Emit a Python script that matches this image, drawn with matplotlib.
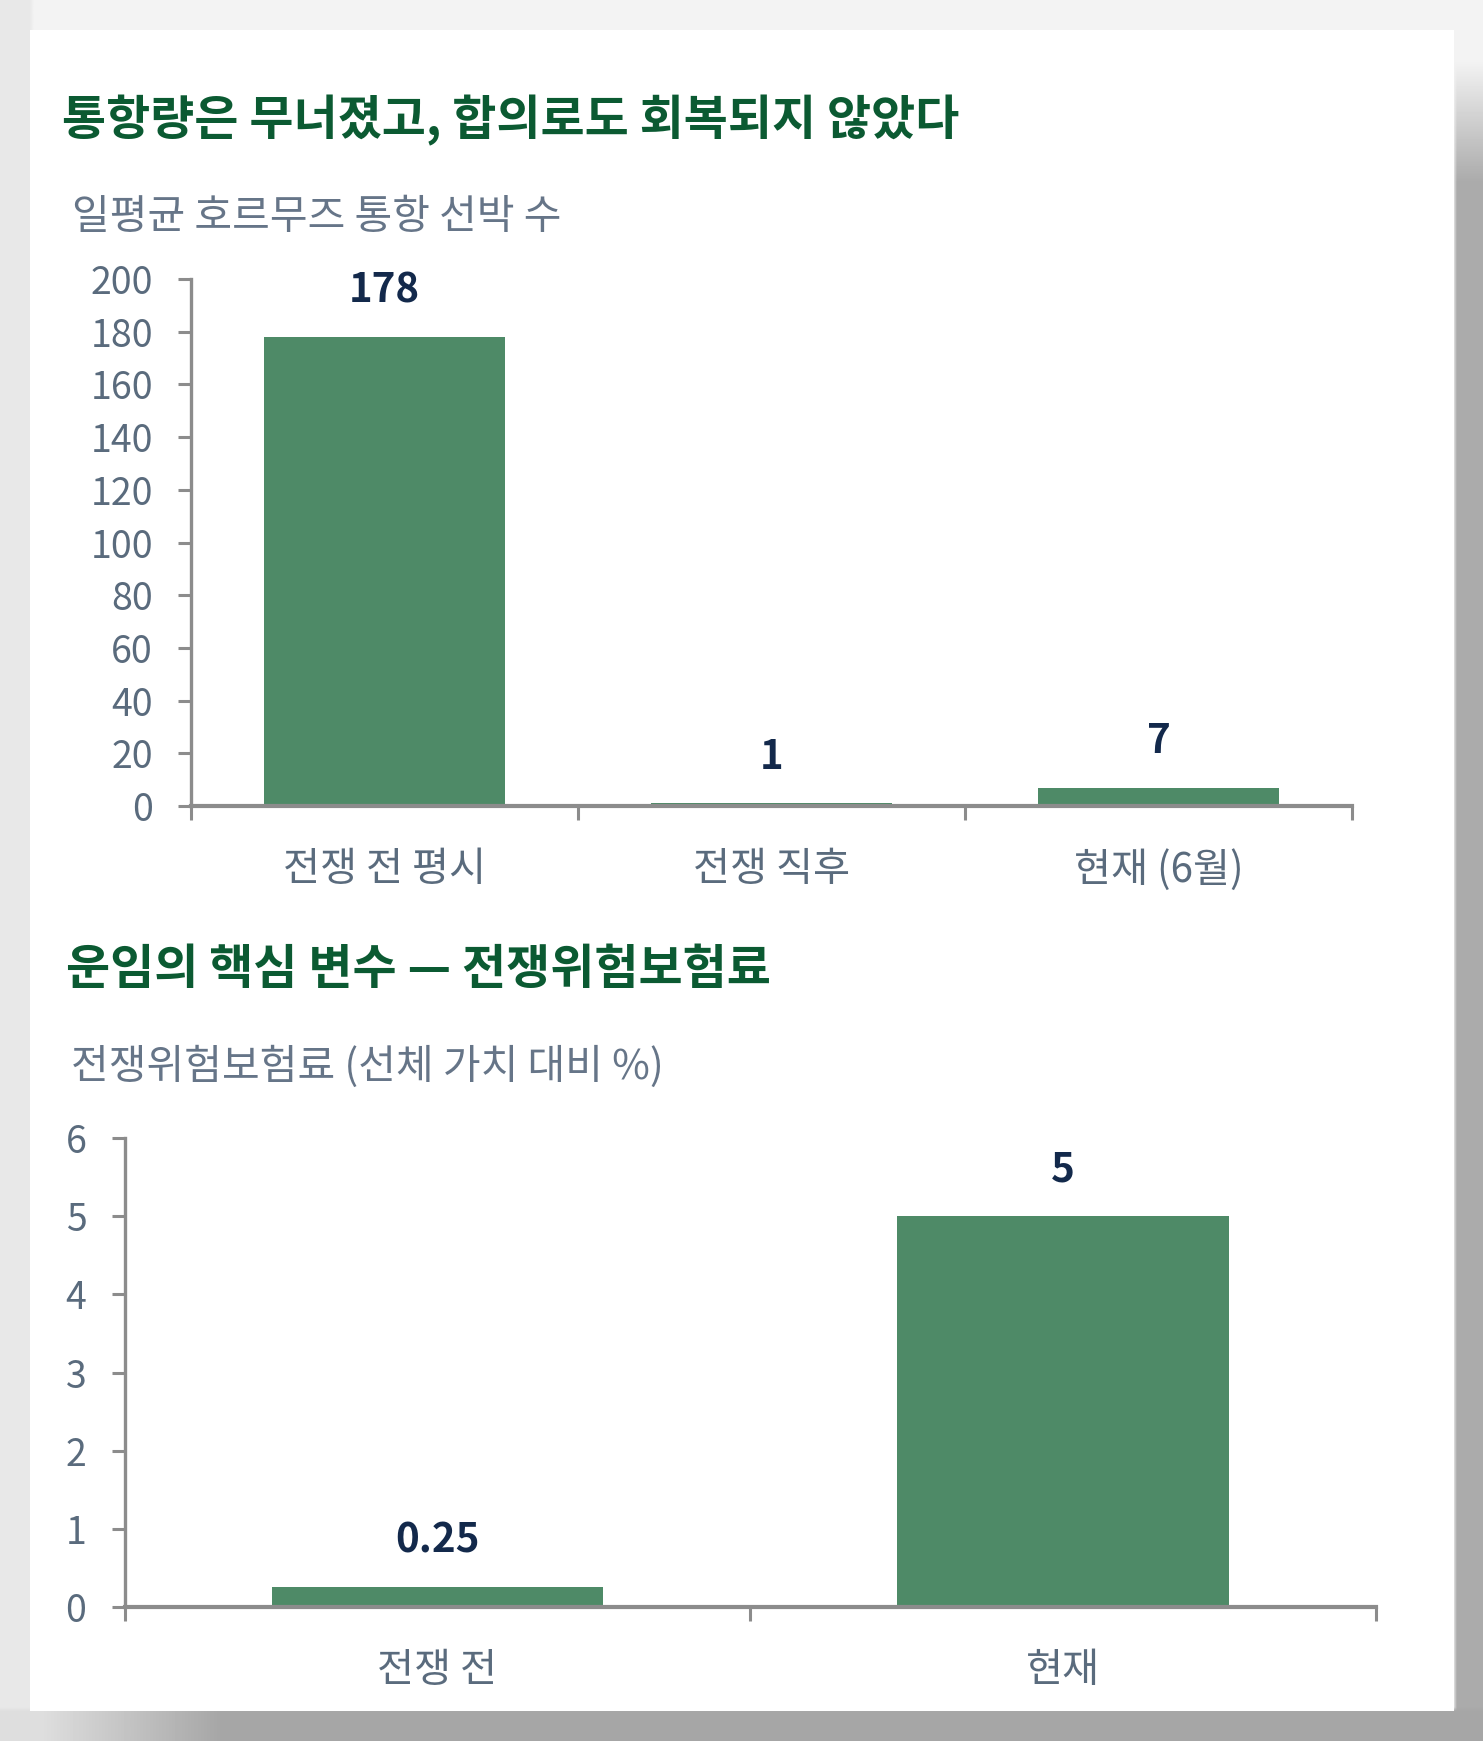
import numpy as np
import matplotlib
matplotlib.use("Agg")
import matplotlib.pyplot as plt
from matplotlib.patches import Rectangle

plt.rcParams['font.family'] = ['Noto Sans CJK KR', 'DejaVu Sans']

# data
title1 = '통항량은 무너졌고, 합의로도 회복되지 않았다'
subtitle1 = '일평균 호르무즈 통항 선박 수'
cats1 = ['전쟁 전 평시', '전쟁 직후', '현재 (6월)']
vals1 = [178, 1, 7]
yticks1 = [0, 20, 40, 60, 80, 100, 120, 140, 160, 180, 200]

title2 = '운임의 핵심 변수 — 전쟁위험보험료'
subtitle2 = '전쟁위험보험료 (선체 가치 대비 %)'
cats2 = ['전쟁 전', '현재']
vals2 = [0.25, 5]
yticks2 = [0, 1, 2, 3, 4, 5, 6]

W, H = 1483, 1741
BAR = '#4e8a67'
AXC = '#8c8c8c'
TICKC = '#5a6b7d'
VALC = '#13294b'
TITLEC = '#0b5a32'

fig = plt.figure(figsize=(W / 100, H / 100), dpi=100)
fig.patch.set_facecolor('#efefef')

# background: light page, grey shadow right and bottom of the card
xx, yy = np.meshgrid(np.arange(0, W, 4), np.arange(0, H, 4))
bg = np.full(xx.shape, 0.95)
bg[xx < 30] = 0.91
right = xx >= 1454
bg[right] = (0.95 - 0.28 * np.clip((yy - 60) / 120, 0, 1))[right]
bottom = yy >= 1711
bg[bottom] = (0.65 + 0.22 * np.clip((220 - xx) / 180, 0, 1))[bottom]
bga = fig.add_axes([0, 0, 1, 1], zorder=-10)
bga.imshow(bg, cmap='gray', vmin=0, vmax=1, aspect='auto', interpolation='bilinear',
           extent=[0, W, H, 0])
bga.axis('off')

# white card
fig.add_artist(Rectangle((30 / W, 1 - 1711 / H), (1454 - 30) / W, (1711 - 30) / H,
                         transform=fig.transFigure, facecolor='white',
                         edgecolor='none', zorder=-5))


def px2fig(x, y):
    return x / W, 1 - y / H


def style_axes(ax, ncat, ylim, yticks):
    ax.set_xlim(-0.5, ncat - 0.5)
    ax.set_ylim(*ylim)
    for s in ['top', 'right']:
        ax.spines[s].set_visible(False)
    for s in ['left', 'bottom']:
        ax.spines[s].set_color(AXC)
    ax.spines['left'].set_linewidth(2.4)
    ax.spines['bottom'].set_linewidth(3.0)
    ax.set_yticks(yticks)
    ax.tick_params(axis='y', direction='out', length=9.4, width=2.2, color=AXC,
                   labelsize=27, labelcolor=TICKC, pad=18)
    ax.set_xticks(np.arange(ncat + 1) - 0.5)
    ax.set_xticklabels([])
    ax.tick_params(axis='x', which='major', direction='out', length=10, width=2.2, color=AXC)
    ax.set_xticks(np.arange(ncat), minor=True)
    ax.tick_params(axis='x', which='minor', length=0, labelsize=29,
                   labelcolor=TICKC, pad=31)
    ax.set_facecolor('none')
    for lab in ax.get_yticklabels():
        lab.set_fontweight('light')


def value_labels(ax, vals):
    for i, v in enumerate(vals):
        ax.annotate(f'{v:g}', xy=(i, v), xytext=(0, 25), textcoords='offset points',
                    ha='center', va='baseline', fontsize=29, fontweight='bold',
                    color=VALC)


# chart 1
l, b = px2fig(191, 806)
ax1 = fig.add_axes([l, b, (1352 - 191) / W, (806 - 279) / H])
ax1.bar(range(len(vals1)), vals1, width=0.625, color=BAR, zorder=2)
style_axes(ax1, len(cats1), (0, 200), yticks1)
ax1.set_xticklabels(cats1, minor=True, fontweight='light')
value_labels(ax1, vals1)

# chart 2
l, b = px2fig(124.5, 1607)
ax2 = fig.add_axes([l, b, (1376 - 124.5) / W, (1607 - 1138) / H])
ax2.bar(range(len(vals2)), vals2, width=0.53, color=BAR, zorder=2)
style_axes(ax2, len(cats2), (0, 6), yticks2)
ax2.set_xticklabels(cats2, minor=True, fontweight='light')
value_labels(ax2, vals2)

# titles
x, y = px2fig(62, 120)
fig.text(x, y, title1, fontsize=34.5, fontweight='bold', color=TITLEC, va='center')
x, y = px2fig(72, 218)
fig.text(x, y, subtitle1, fontsize=29.5, fontweight='light', style='italic',
         color='#667588', va='center')
x, y = px2fig(66, 970)
fig.text(x, y, title2, fontsize=34.5, fontweight='bold', color=TITLEC, va='center')
x, y = px2fig(71, 1067)
fig.text(x, y, subtitle2, fontsize=29.5, fontweight='light', style='italic',
         color='#667588', va='center')

fig.savefig('out.png', dpi=100)
